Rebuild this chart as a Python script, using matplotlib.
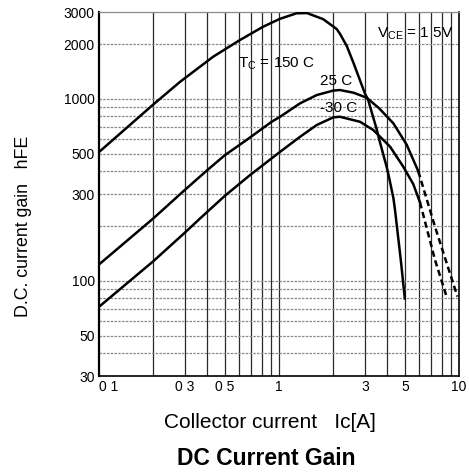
import numpy as np
import matplotlib.pyplot as plt

plt.rcParams['font.family'] = ['Liberation Sans', 'DejaVu Sans']

# Tc = 150 C
ic_150 = [0.1, 0.2, 0.282, 0.432, 0.606, 0.818, 1.01, 1.25, 1.43, 1.76, 2.09, 2.18, 2.38, 2.59,
          3.0, 3.13, 3.29, 3.49, 3.6, 3.96, 4.1, 4.32, 4.4, 4.75, 5.0]
hfe_150 = [510, 930, 1240, 1707, 2103, 2493, 2750, 2950, 2960, 2740, 2420, 2280, 1950, 1580,
           1071, 985, 830, 680, 600, 424, 365, 285, 250, 130, 80]

# Tc = 25 C (solid part, then dashed)
ic_25 = [0.1, 0.2, 0.3, 0.4, 0.5, 0.66, 0.91, 1.01, 1.31, 1.62, 2.0, 2.18, 2.6, 3.07, 3.6, 4.32, 5.12, 5.94]
hfe_25 = [123, 220, 316, 406, 490, 594, 748, 795, 945, 1049, 1110, 1118, 1080, 1014, 887, 733, 560, 400]
ic_25_d = [5.94, 7.36, 9.8]
hfe_25_d = [400, 198, 82]

# Tc = -30 C
ic_m30 = [0.1, 0.2, 0.3, 0.364, 0.5, 0.69, 1.01, 1.31, 1.62, 2.0, 2.18, 2.82, 3.34, 4.14, 4.9, 5.57, 6.07]
hfe_m30 = [72, 128, 184, 220, 293, 381, 510, 619, 718, 791, 797, 748, 674, 546, 424, 340, 270]
ic_m30_d = [6.07, 7.36, 8.53]
hfe_m30_d = [270, 130, 82]

x_ticks = [0.1, 0.3, 0.5, 1, 3, 5, 10]
x_labels = ['0 1', '0 3', '0 5', '1', '3', '5', '10']
y_ticks = [30, 50, 100, 300, 500, 1000, 2000, 3000]
y_labels = ['30', '50', '100', '300', '500', '1000', '2000', '3000']

fig = plt.figure(figsize=(4.69, 4.73), dpi=100)
ax = fig.add_axes([99/469, 1 - 376/473, 360/469, 364/473])
ax.set_xscale('log')
ax.set_yscale('log')
ax.set_xlim(0.1, 10)
ax.set_ylim(30, 3000)

# grid: every minor decade step
xg = [m * 10.0**e for e in (-1, 0) for m in range(2, 10)] + [1]
yg = [m * 10.0**e for e in (1, 2, 3) for m in range(1, 10)]
for v in xg:
    ax.axvline(v, color='#2a2a2a', lw=0.9, zorder=1)
for v in yg:
    if 30 < v < 3000:
        ax.axhline(v, color='#8a8a8a', lw=0.9, ls=(0, (2, 1)), zorder=1)

lw = 1.8
ax.plot(ic_150, hfe_150, color='black', lw=lw, zorder=3)
ax.plot(ic_25, hfe_25, color='black', lw=lw, zorder=3)
ax.plot(ic_25_d, hfe_25_d, color='black', lw=lw, ls=(0, (2.5, 1.5)), zorder=3)
ax.plot(ic_m30, hfe_m30, color='black', lw=lw, zorder=3)
ax.plot(ic_m30_d, hfe_m30_d, color='black', lw=lw, ls=(0, (2.5, 1.5)), zorder=3)

ax.set_xticks(x_ticks)
ax.set_xticklabels(x_labels)
ax.set_xticks([], minor=True)
ax.set_yticks(y_ticks)
ax.set_yticklabels(y_labels)
ax.set_yticks([], minor=True)
ax.tick_params(length=0, labelsize=10, pad=3)
ax.get_xticklabels()[0].set_ha('left')

ax.spines['left'].set_linewidth(1.6)
ax.spines['bottom'].set_linewidth(1.2)
ax.spines['right'].set_linewidth(1.2)
ax.spines['top'].set_color('#8a8a8a')
ax.spines['top'].set_linewidth(0.9)

narrow = ['Liberation Sans Narrow', 'Liberation Sans', 'DejaVu Sans']
ax.text(0.59, 1492, r'T$_{\mathregular{C}}$ = 150 C', fontsize=11, family=narrow)
ax.text(1.69, 1193, '25 C', fontsize=11, family=narrow)
ax.text(1.69, 846, '-30 C', fontsize=11, family=narrow)
ax.text(3.5, 2187, r'V$_{\mathregular{CE}}$ = 1 5V', fontsize=11, family=narrow)

fig.text(23/469, 1 - 226/473, 'D.C. current gain   hFE', rotation=90,
         ha='center', va='center', fontsize=12.8)
fig.text(270/469, 1 - 422/473, 'Collector current   Ic[A]',
         ha='center', va='center', fontsize=15)
fig.text(266/469, 1 - 458/473, 'DC Current Gain', ha='center', va='center',
         fontsize=16.5, fontweight='bold')

fig.savefig('out.png', dpi=100)
